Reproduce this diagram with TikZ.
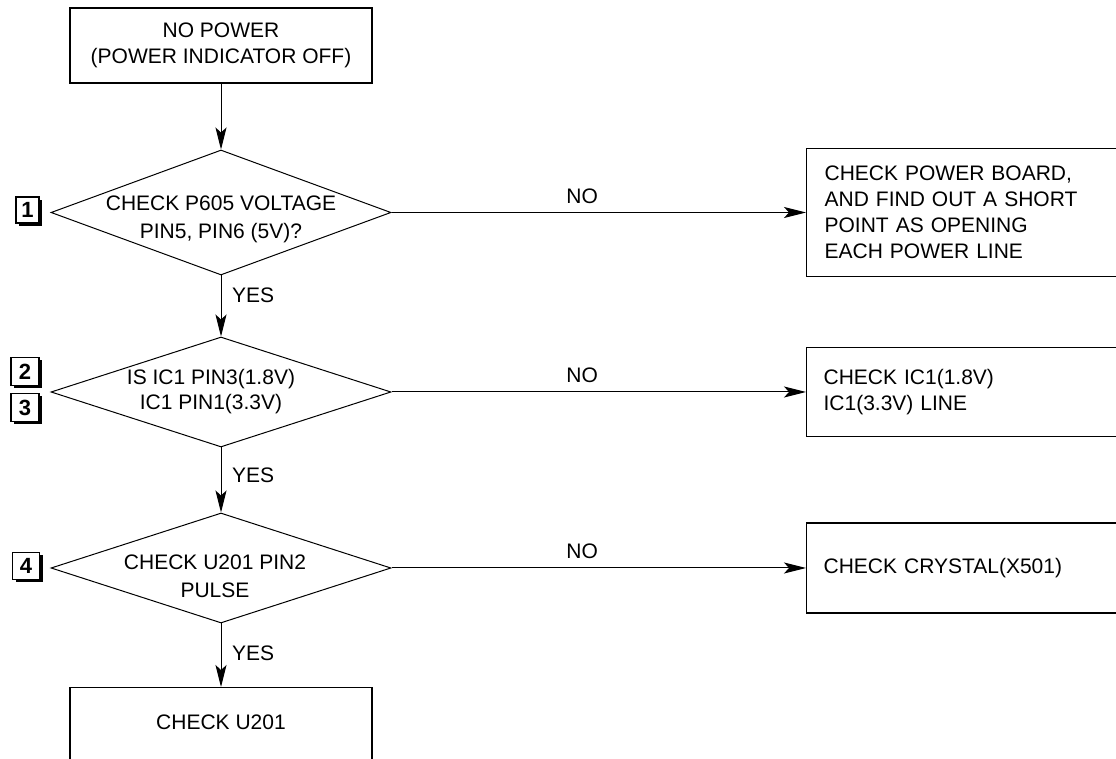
\documentclass[tikz,border=0pt]{standalone}
\usepackage{fontspec}
\setmainfont{Liberation Sans}
\usetikzlibrary{shapes.geometric,arrows.meta,shadows}
\begin{document}
\begin{tikzpicture}[x=0.5pt,y=-0.5pt,line width=0.5pt,
  font=\fontsize{10.5pt}{13pt}\selectfont,
  >={Stealth[length=11pt,width=5.5pt,inset=2.5pt]},
  box/.style={draw,line width=0.6pt,align=center,inner sep=0pt,minimum width=151pt},
  sidebox/.style={draw,line width=0.6pt,anchor=west,align=left,text width=183pt,inner xsep=8.5pt},
  check/.style={draw,diamond,inner sep=0pt,minimum width=170pt},
  numbox/.style={draw,fill=white,line width=0.7pt,font=\fontsize{11pt}{12pt}\bfseries\selectfont,
    minimum width=14pt,minimum height=14pt,inner sep=0pt,
    drop shadow={fill=black,opacity=1,shadow xshift=1.5pt,shadow yshift=-1.5pt}}]
\useasboundingbox (0,0) rectangle (1116,759);
\clip (0,0) rectangle (1116,759);
\node[box,minimum height=37.5pt] (nopower) at (221,45.5) {NO POWER\\(POWER INDICATOR OFF)};
\node[check,minimum height=62.5pt,label={[yshift=-3.5pt,align=center,font=\fontsize{10.5pt}{14pt}\selectfont]center:{CHECK P605 VOLTAGE\\PIN5, PIN6 (5V)?}}] (p605) at (221,212.5) {};
\node[check,minimum height=55pt,label={[xshift=-5pt,align=center,font=\fontsize{10.5pt}{12.5pt}\selectfont]center:{IS IC1 PIN3(1.8V)\\IC1 PIN1(3.3V)}}] (ic1) at (221,392) {};
\node[check,minimum height=55pt,label={[xshift=-3pt,yshift=-4pt,align=center,font=\fontsize{10.5pt}{14pt}\selectfont]center:{CHECK U201 PIN2\\PULSE}}] (u201) at (221,568) {};
\node[box,minimum height=60pt,anchor=north,label={[anchor=center,yshift=-17.5pt]north:{CHECK U201}}] (u201chk) at (221,687) {};
\node[sidebox,minimum height=64pt,inner xsep=9pt] (powerboard) at (806,212.5) {CHECK POWER BOARD,\\AND FIND OUT A SHORT\\POINT AS OPENING\\EACH POWER LINE};
\node[sidebox,minimum height=44.5pt] (ic1line) at (806,392) {CHECK IC1(1.8V)\\IC1(3.3V) LINE};
\node[sidebox,minimum height=45pt] (crystal) at (806,568) {CHECK CRYSTAL(X501)};
\node[numbox,minimum width=11.5pt,minimum height=13pt] (n1) at (27.5,210) {1};
\node[numbox] (n2) at (25,371.5) {2};
\node[numbox] (n3) at (25,407.5) {3};
\node[numbox,minimum width=13.5pt,minimum height=13.5pt] (n4) at (26,566) {4};
\draw[->] (nopower.south) -- (p605.north);
\draw[->] (p605.south) -- node[pos=.32,right=2pt]{YES} (ic1.north);
\draw[->] (ic1.south) -- node[pos=.42,right=2pt]{YES} (u201.north);
\draw[->] (u201.south) -- node[pos=.47,right=2pt]{YES} (u201chk.north);
\draw[->] (p605.east) -- node[pos=.46,above=1pt]{NO} (powerboard.west);
\draw[->] (ic1.east) -- node[pos=.46,above=1pt]{NO} (ic1line.west);
\draw[->] (u201.east) -- node[pos=.46,above=1pt]{NO} (crystal.west);
\end{tikzpicture}
\end{document}
